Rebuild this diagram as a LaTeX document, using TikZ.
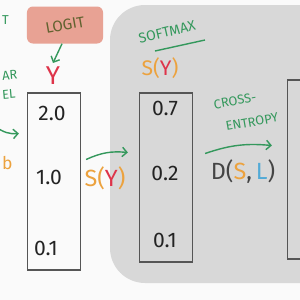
\documentclass[tikz,border=0pt]{standalone}
\usepackage{fontspec}
\setmainfont{Fira Sans}
\usetikzlibrary{arrows.meta,positioning,calc}
\definecolor{ink}{RGB}{35,35,35}
\definecolor{paper}{RGB}{250,250,250}
\definecolor{panelgrey}{RGB}{216,216,216}
\definecolor{boxline}{RGB}{85,85,85}
\definecolor{chalkgreen}{RGB}{52,152,92}
\definecolor{chalkorange}{RGB}{236,162,62}
\definecolor{chalkred}{RGB}{222,52,74}
\definecolor{chalkblue}{RGB}{82,170,214}
\definecolor{logitpink}{RGB}{232,162,148}
\definecolor{logitink}{RGB}{98,98,48}
\tikzset{
  valbox/.style={draw=boxline,line width=1.3pt,minimum width=1.58cm,inner sep=0pt},
  val/.style={text=ink,font=\fontsize{18}{18}\selectfont},
  scribble/.style={text=chalkgreen,font=\fontsize{11}{12}\selectfont},
  flow/.style={draw=chalkgreen,line width=1.2pt,
    -{Straight Barb[length=4pt,width=8pt]}},
}

\begin{document}
\begin{tikzpicture}[x=0.03cm,y=-0.03cm]
  \useasboundingbox (0,0) rectangle (300,300);
  \clip (0,0) rectangle (300,300);
  \fill[paper] (0,0) rectangle (300,300);
  % softmax panel
  \fill[panelgrey,rounded corners=1.05cm] (110,5) rectangle (380,283);

  % logit label
  \node[fill=logitpink,rounded corners=5pt,minimum width=2.28cm,
    minimum height=1.11cm] (logit) at (65,25) {};
  \node[text=logitink,font=\fontsize{13}{13}\selectfont,rotate=10]
    (logittxt) at (logit.center) {LOGIT};
  \node[text=chalkred,font=\fontsize{22}{22}\selectfont] (ylab) at (53,76) {Y};
  \draw[flow] ([shift={(-3,0)}]logit.south) -- (ylab.north);

  % left columns, cut off
  \node[scribble,anchor=west] (tpart) at (-2,20) {T};
  \node[scribble,anchor=west,rotate=5] (linpart) at (-2,76) {AR};
  \node[scribble,anchor=west,rotate=5] (modpart) at (-2,95) {EL};
  \node[text=chalkorange,font=\fontsize{15}{15}\selectfont,anchor=west]
    (bpart) at (-2,163) {b};

  % scores
  \node[valbox,minimum height=5.31cm] (logits) at (54,181.5) {};
  \node[val] (s1) at (52,113) {2.0};
  \node[val] (s2) at (49,177) {1.0};
  \node[val] (s3) at (46,248) {0.1};

  \coordinate (src) at (-4,127);
  \draw[flow] (src) to[bend right=20] ([shift={(-8,-48)}]logits.west);

  % probabilities
  \node[valbox,minimum height=5.07cm] (probs) at (166,177.5) {};
  \node[val] (p1) at (165,108) {0.7};
  \node[val] (p2) at (165,173) {0.2};
  \node[val] (p3) at (165,240) {0.1};

  \node[valbox,minimum height=5.37cm] (labels) at (314,169.5) {};

  \node[scribble,font=\fontsize{12}{12}\selectfont,rotate=13]
    (softmax) at (167,32) {SOFTMAX};
  \draw[chalkgreen,line width=1.2pt] (155,51) -- (205,40);
  \node[font=\fontsize{18}{18}\selectfont] (sy) at (160,68)
    {\textcolor{chalkorange}{S(}\textcolor{chalkred}{Y}\textcolor{chalkorange}{)}};

  \draw[flow] ([shift={(5,-22)}]logits.east) to[bend left=15]
    ([shift={(-11,-25)}]probs.west);
  \node[font=\fontsize{20}{20}\selectfont] (syb) at (105,178)
    {\textcolor{chalkorange}{S(}\textcolor{chalkred}{Y}\textcolor{chalkorange}{)}};

  \node[scribble,rotate=10] (cross) at (235,101) {CROSS-};
  \node[scribble,rotate=10] (entropy) at (252,122) {ENTROPY};
  \draw[flow] ([shift={(12,-24)}]probs.east) to[bend left=12]
    ([shift={(-15,-24)}]labels.west);
  \node[font=\fontsize{20}{20}\selectfont] (dist) at (243,172)
    {\textcolor{ink!85}{D(}\textcolor{chalkorange}{S}\textcolor{ink!85}{,\,}\textcolor{chalkblue}{L}\textcolor{ink!85}{)}};
\end{tikzpicture}
\end{document}
